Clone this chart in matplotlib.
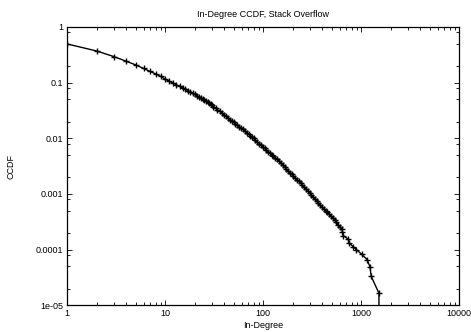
import matplotlib
matplotlib.use("Agg")
import matplotlib.pyplot as plt
from matplotlib.ticker import LogLocator, FixedLocator, FixedFormatter, NullFormatter

plt.rcParams['font.family'] = ['Liberation Sans', 'DejaVu Sans']

# in-degree values and CCDF
degree = [1, 2, 3, 4, 5, 6, 7, 8, 9, 10,
          11, 12, 13, 14, 15, 16, 17, 18, 19, 20,
          21, 22, 23, 24, 25, 26, 27, 28, 29, 30,
          31, 33, 34, 36, 38, 40, 42, 44, 46, 48,
          50, 52, 54, 57, 59, 62, 65, 68, 71, 74,
          77, 80, 83, 87, 91, 95, 99, 103, 107, 112,
          117, 122, 127, 133, 139, 145, 151, 158, 165, 172,
          179, 187, 195, 203, 212, 221, 230, 240, 250, 261,
          272, 284, 296, 309, 322, 336, 350, 365, 381, 397,
          414, 432, 451, 470, 490, 511, 533, 556, 580, 605,
          631, 642, 657, 735, 748, 825, 891, 1006, 1148, 1225,
          1262, 1513, 1513]
ccdf = [0.495, 0.370, 0.293, 0.242, 0.208, 0.180, 0.159, 0.143, 0.129, 0.116,
        0.1057, 0.0976, 0.0910, 0.0853, 0.0802, 0.0758, 0.0719, 0.0684, 0.0647, 0.0613,
        0.0583, 0.0556, 0.0532, 0.0508, 0.0488, 0.0468, 0.0451, 0.0434, 0.0415, 0.0397,
        0.0371, 0.0346, 0.0325, 0.0306, 0.0284, 0.0263, 0.0247, 0.0230, 0.0217, 0.0204,
        0.0194, 0.0184, 0.0173, 0.0163, 0.0153, 0.0145, 0.0135, 0.0127, 0.01196, 0.0112,
        0.01056, 0.00993, 0.00925, 0.00865, 0.00807, 0.00752, 0.00704, 0.00659, 0.00617, 0.00577,
        0.00540, 0.00505, 0.00475, 0.00447, 0.00418, 0.00393, 0.00359, 0.00327, 0.00304, 0.00282,
        0.00262, 0.00243, 0.00226, 0.00210, 0.00195, 0.00181, 0.00168, 0.00156, 0.00145, 0.00135,
        0.00123, 0.00113, 0.00104, 0.000955, 0.000879, 0.000813, 0.000748, 0.000692, 0.000637, 0.000589,
        0.000544, 0.000503, 0.000467, 0.000433, 0.000402, 0.000375, 0.000339, 0.000308, 0.000278, 0.000251,
        0.000235, 0.000210, 0.000178, 0.000155, 0.000133, 0.000113, 0.000100, 8.3e-05, 6.6e-05, 4.9e-05,
        3.3e-05, 1.65e-05, 1e-06]

x_ticks = [1, 10, 100, 1000, 10000]
x_labels = ['1', '10', '100', '1000', '10000']
y_ticks = [1e-05, 1e-04, 1e-03, 1e-02, 1e-01, 1]
y_labels = ['1e-05', '0.0001', '0.001', '0.01', '0.1', '1']

fig = plt.figure(figsize=(4.71, 3.32), dpi=100)
ax = fig.add_axes([0.1429, 0.0804, 0.8323, 0.8383])

ax.plot(degree, ccdf, color='black', lw=1.0, marker='+', ms=4, mew=1.0)

ax.set_xscale('log')
ax.set_yscale('log')
ax.set_xlim(1, 10000)
ax.set_ylim(1e-05, 1)

ax.xaxis.set_major_locator(FixedLocator(x_ticks))
ax.xaxis.set_major_formatter(FixedFormatter(x_labels))
ax.xaxis.set_minor_locator(LogLocator(base=10, subs=range(2, 10)))
ax.xaxis.set_minor_formatter(NullFormatter())
ax.yaxis.set_major_locator(FixedLocator(y_ticks))
ax.yaxis.set_major_formatter(FixedFormatter(y_labels))
ax.yaxis.set_minor_locator(LogLocator(base=10, subs=[2, 5, 8]))
ax.yaxis.set_minor_formatter(NullFormatter())

ax.tick_params(which='both', direction='in', top=True, right=True, width=0.6, labelsize=6.5)
ax.tick_params(which='major', length=3.5, pad=3)
ax.tick_params(which='minor', length=2)
for s in ax.spines.values():
    s.set_linewidth(0.9)

ax.set_title('In-Degree CCDF, Stack Overflow', fontsize=6.5, pad=7)
ax.set_xlabel('In-Degree', fontsize=6.5, labelpad=2)
ax.set_ylabel('CCDF', fontsize=6.5)
ax.yaxis.set_label_coords(-0.132, 0.5)

fig.savefig('out.png', dpi=100)
